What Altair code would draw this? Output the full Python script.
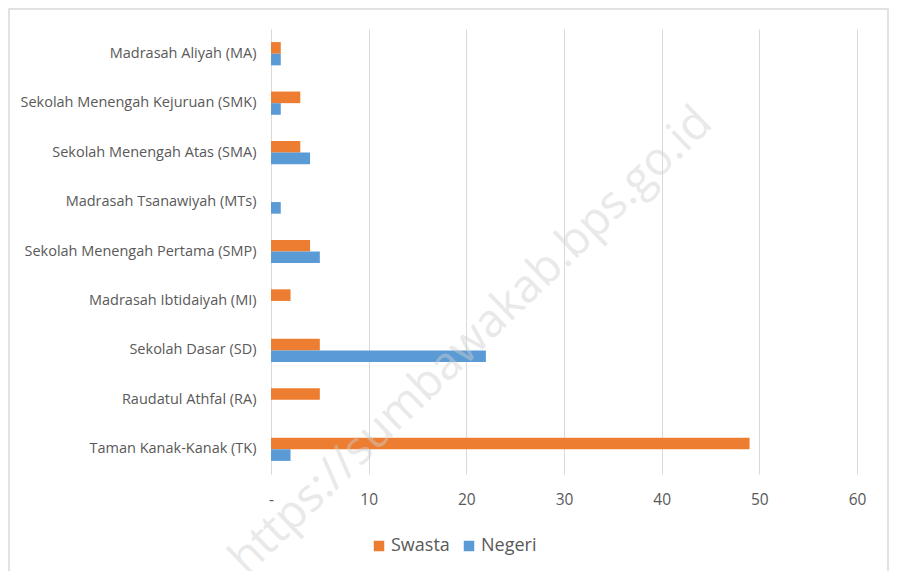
import altair as alt
import pandas as pd

categories = [
    "Madrasah Aliyah (MA)",
    "Sekolah Menengah Kejuruan (SMK)",
    "Sekolah Menengah Atas (SMA)",
    "Madrasah Tsanawiyah (MTs)",
    "Sekolah Menengah Pertama (SMP)",
    "Madrasah Ibtidaiyah (MI)",
    "Sekolah Dasar (SD)",
    "Raudatul Athfal (RA)",
    "Taman Kanak-Kanak (TK)",
]
swasta = [1, 3, 3, 0, 4, 2, 5, 5, 49]
negeri = [1, 1, 4, 1, 5, 0, 22, 0, 2]
series = ["Swasta", "Negeri"]
colors = ["#ED7D31", "#5B9BD5"]
x_ticks = [0, 10, 20, 30, 40, 50, 60]
watermark = "https://sumbawakab.bps.go.id"

rows = []
for c, s, n in zip(categories, swasta, negeri):
    rows.append({"Jenjang": c, "Status": "Swasta", "Jumlah": s})
    rows.append({"Jenjang": c, "Status": "Negeri", "Jumlah": n})
df = pd.DataFrame(rows)

FONT = "Open Sans"
GRAY = "#595959"

bars = alt.Chart(df).mark_bar().encode(
    y=alt.Y("Jenjang:N", sort=categories, title=None,
            scale=alt.Scale(paddingInner=0.53, paddingOuter=0.265),
            axis=alt.Axis(ticks=False, domain=True, domainColor="#d9d9d9",
                          labelFont=FONT, labelFontSize=14.5, labelColor=GRAY,
                          labelPadding=15, labelLimit=400)),
    yOffset=alt.YOffset("Status:N", sort=series, scale=alt.Scale(paddingInner=0, paddingOuter=0)),
    x=alt.X("Jumlah:Q", title=None,
            scale=alt.Scale(domain=[0, 60], nice=False),
            axis=alt.Axis(values=x_ticks, grid=True, gridColor="#d9d9d9",
                          domain=False, ticks=False, labelFlush=False,
                          labelFont=FONT, labelFontSize=15.5, labelColor=GRAY,
                          labelPadding=18,
                          labelExpr="datum.value == 0 ? '-' : datum.label")),
    color=alt.Color("Status:N", sort=series,
                    scale=alt.Scale(domain=series, range=colors),
                    legend=alt.Legend(title=None, orient="none", direction="horizontal",
                                      legendX=99, legendY=508,
                                      symbolType="square", symbolSize=110,
                                      symbolStrokeWidth=0,
                                      labelFont=FONT, labelFontSize=18, labelColor=GRAY,
                                      columnPadding=10, labelOffset=3)),
)

wm = alt.Chart(pd.DataFrame({"t": [watermark]})).mark_text(
    font=FONT, fontSize=46, color="#cfcfcf", opacity=0.45, angle=316,
    align="center", baseline="middle"
).encode(text="t:N", x=alt.value(200), y=alt.value(312))

frame = alt.Chart(pd.DataFrame({"a": [0]})).mark_rect(
    fill=None, stroke="#d9d9d9", strokeWidth=1.5
).encode(x=alt.value(-262), x2=alt.value(617), y=alt.value(-20), y2=alt.value(600))

chart = alt.layer(frame, bars, wm).properties(
    width=586, height=445,
    autosize=alt.AutoSizeParams(type="none"),
    padding={"left": 263, "top": 21, "right": 32, "bottom": 97},
).configure(background="white").configure_view(stroke=None, strokeWidth=0)

chart.save("out.html", embed_options={"renderer": "svg", "actions": False})
